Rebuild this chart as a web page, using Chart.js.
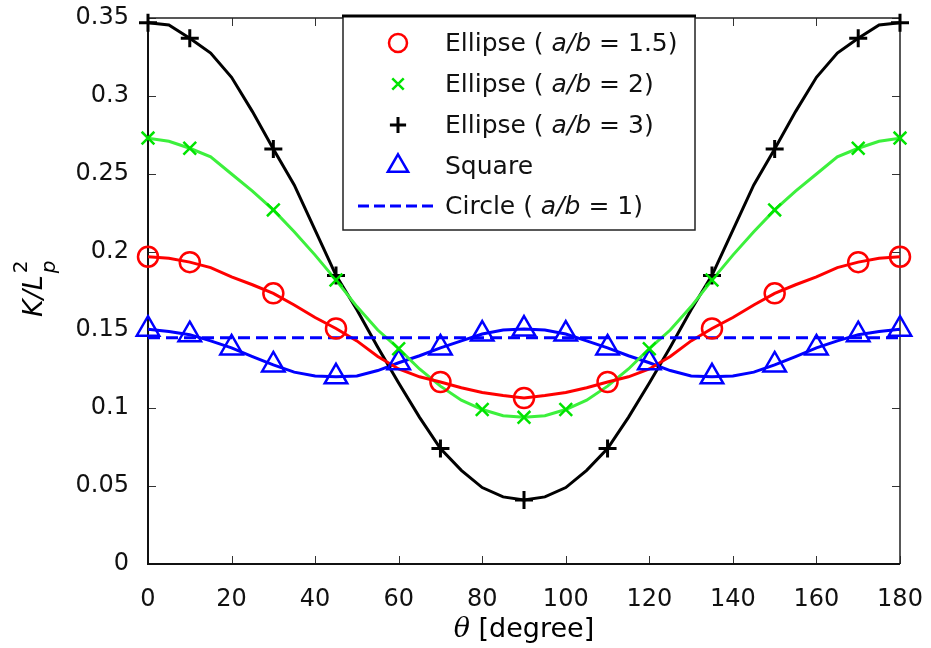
<!DOCTYPE html>
<html>
<head>
<meta charset="utf-8">
<script src="https://cdn.jsdelivr.net/npm/chart.js@4.4.1/dist/chart.umd.min.js"></script>
<style>
  html, body { margin: 0; padding: 0; background: #fff; }
</style>
</head>
<body>
<canvas id="chart" width="931" height="648"></canvas>
<script>
// --- DATA ---
const thetaLine = [0, 5, 10, 15, 20, 25, 30, 35, 40, 45, 50, 55, 60, 65, 70, 75, 80, 85, 90,
  95, 100, 105, 110, 115, 120, 125, 130, 135, 140, 145, 150, 155, 160, 165, 170, 175, 180];

const ellipse15Line = [0.197, 0.196, 0.1935, 0.190, 0.184, 0.179, 0.1735, 0.166, 0.158, 0.151,
  0.143, 0.133, 0.125, 0.120, 0.1167, 0.113, 0.110, 0.108, 0.1064,
  0.108, 0.110, 0.113, 0.1167, 0.120, 0.125, 0.133, 0.143, 0.151, 0.158, 0.166, 0.1735,
  0.179, 0.184, 0.190, 0.1935, 0.196, 0.197];
const ellipse2Line = [0.273, 0.271, 0.2665, 0.261, 0.250, 0.239, 0.227, 0.213, 0.198, 0.182,
  0.165, 0.150, 0.138, 0.125, 0.114, 0.105, 0.099, 0.095, 0.094,
  0.095, 0.099, 0.105, 0.114, 0.125, 0.138, 0.150, 0.165, 0.182, 0.198, 0.213, 0.227,
  0.239, 0.250, 0.261, 0.2665, 0.271, 0.273];
const ellipse3Line = [0.347, 0.3455, 0.337, 0.3275, 0.312, 0.290, 0.266, 0.243, 0.214, 0.185,
  0.163, 0.139, 0.116, 0.094, 0.074, 0.060, 0.049, 0.043, 0.041,
  0.043, 0.049, 0.060, 0.074, 0.094, 0.116, 0.139, 0.163, 0.185, 0.214, 0.243, 0.266,
  0.290, 0.312, 0.3275, 0.337, 0.3455, 0.347];
const squareLine = [0.1505, 0.149, 0.147, 0.143, 0.1385, 0.133, 0.1276, 0.123, 0.1205, 0.120,
  0.1205, 0.124, 0.129, 0.1335, 0.1385, 0.143, 0.1474, 0.150, 0.1506,
  0.150, 0.1474, 0.143, 0.1385, 0.1335, 0.129, 0.124, 0.1205, 0.120, 0.1205, 0.123, 0.1276,
  0.133, 0.1385, 0.143, 0.147, 0.149, 0.1505];

const circleTheta = [0, 180];
const circleLine = [0.145, 0.145];

const ellipse15MarkTheta = [0, 10, 30, 45, 70, 90, 110, 135, 150, 170, 180];
const ellipse15Mark = [0.197, 0.1935, 0.1735, 0.151, 0.1167, 0.1064, 0.1167, 0.151, 0.1735, 0.1935, 0.197];
const ellipse2MarkTheta = [0, 10, 30, 45, 60, 80, 90, 100, 120, 135, 150, 170, 180];
const ellipse2Mark = [0.273, 0.2665, 0.227, 0.182, 0.138, 0.099, 0.094, 0.099, 0.138, 0.182, 0.227, 0.2665, 0.273];
const ellipse3MarkTheta = [0, 10, 30, 45, 70, 90, 110, 135, 150, 170, 180];
const ellipse3Mark = [0.347, 0.337, 0.266, 0.185, 0.074, 0.041, 0.074, 0.185, 0.266, 0.337, 0.347];
const squareMarkTheta = [0, 10, 20, 30, 45, 60, 70, 80, 90, 100, 110, 120, 135, 150, 160, 170, 180];
const squareMark = [0.1505, 0.147, 0.1385, 0.1276, 0.120, 0.129, 0.1385, 0.1474, 0.1506,
  0.1474, 0.1385, 0.129, 0.120, 0.1276, 0.1385, 0.147, 0.1505];

const xTicks = [0, 20, 40, 60, 80, 100, 120, 140, 160, 180];
const yTicks = [0, 0.05, 0.1, 0.15, 0.2, 0.25, 0.3, 0.35];
const yTickLabels = ['0', '0.05', '0.1', '0.15', '0.2', '0.25', '0.3', '0.35'];

// legend rows: [normal, italic, normal]
const legendLabels = [
  ['Ellipse ( ', 'a/b', ' = 1.5)'],
  ['Ellipse ( ', 'a/b', ' = 2)'],
  ['Ellipse ( ', 'a/b', ' = 3)'],
  ['Square', '', ''],
  ['Circle ( ', 'a/b', ' = 1)']
];

const FONT = '"DejaVu Sans", sans-serif';

function pts(xs, ys) {
  return xs.map((x, i) => ({ x: x, y: ys[i] }));
}

function lineSet(xs, ys, color, extra) {
  return Object.assign({
    type: 'line', data: pts(xs, ys), borderColor: color, borderWidth: 3,
    pointRadius: 0, tension: 0, fill: false, order: 5
  }, extra || {});
}

function markSet(xs, ys, color, style, radius, bw) {
  return {
    type: 'line', data: pts(xs, ys), showLine: false, borderColor: color,
    pointBorderColor: color, pointBackgroundColor: 'rgba(0,0,0,0)',
    pointStyle: style, pointRadius: radius, pointBorderWidth: bw,
    clip: false, order: 1
  };
}

const markerSets = [
  markSet(ellipse15MarkTheta, ellipse15Mark, '#ff0000', 'circle', 10, 2.5),
  markSet(ellipse2MarkTheta, ellipse2Mark, '#00e400', 'crossRot', 9, 2.5),
  markSet(ellipse3MarkTheta, ellipse3Mark, '#000000', 'cross', 9, 3),
  markSet(squareMarkTheta, squareMark, '#0000ff', 'triangle', 13, 2.5)
];

// scale label overhang would push the plot area in; the layout padding handles it
function noPadding(s) {
  s.paddingLeft = 0; s.paddingRight = 0; s.paddingTop = 0; s.paddingBottom = 0;
}

// --- PLUGINS ---
const framePlugin = {
  id: 'frame',
  beforeDatasetsDraw(chart) {
    const { ctx, chartArea: a, scales } = chart;
    ctx.save();
    ctx.strokeStyle = '#333';
    ctx.lineWidth = 1;
    xTicks.forEach(v => {
      const px = Math.round(scales.x.getPixelForValue(v)) + 0.5;
      ctx.beginPath();
      ctx.moveTo(px, a.bottom); ctx.lineTo(px, a.bottom - 8);
      ctx.moveTo(px, a.top); ctx.lineTo(px, a.top + 8);
      ctx.stroke();
    });
    yTicks.forEach(v => {
      const py = Math.round(scales.y.getPixelForValue(v)) + 0.5;
      ctx.beginPath();
      ctx.moveTo(a.left, py); ctx.lineTo(a.left + 8, py);
      ctx.moveTo(a.right, py); ctx.lineTo(a.right - 8, py);
      ctx.stroke();
    });
    ctx.strokeStyle = '#222';
    ctx.lineWidth = 1.5;
    ctx.beginPath();
    ctx.moveTo(a.left, a.top); ctx.lineTo(a.right, a.top); ctx.lineTo(a.right, a.bottom);
    ctx.stroke();
    ctx.strokeStyle = '#111';
    ctx.lineWidth = 2;
    ctx.beginPath();
    ctx.moveTo(a.left, a.top); ctx.lineTo(a.left, a.bottom); ctx.lineTo(a.right, a.bottom);
    ctx.stroke();
    ctx.restore();
  }
};

function drawParts(ctx, parts, x, y, size) {
  let cx = x;
  parts.forEach((p, i) => {
    if (!p) return;
    ctx.font = (i === 1 ? 'italic ' : '') + size + 'px ' + FONT;
    ctx.fillText(p, cx, y);
    cx += ctx.measureText(p).width;
  });
}

const titlePlugin = {
  id: 'titles',
  afterDraw(chart) {
    const { ctx, chartArea: a } = chart;
    ctx.save();
    ctx.fillStyle = '#000';
    ctx.textBaseline = 'alphabetic';
    // x title: theta [degree]
    const thFont = 'italic 27px "DejaVu Serif", serif';
    const txtFont = '27px ' + FONT;
    ctx.font = thFont;
    const th = '\u03B8';
    const thW = ctx.measureText(th).width;
    ctx.font = txtFont;
    const rest = ' [degree]';
    const rW = ctx.measureText(rest).width;
    const cx = (a.left + a.right) / 2;
    const sx = cx - (thW + rW) / 2;
    ctx.font = thFont;
    ctx.fillText(th, sx, 637);
    ctx.font = txtFont;
    ctx.fillText(rest, sx + thW, 637);

    // y title: K/L_p^2 rotated
    ctx.translate(42, (a.top + a.bottom) / 2 + 26);
    ctx.rotate(-Math.PI / 2);
    ctx.font = 'italic 27px ' + FONT;
    ctx.fillText('K/L', 0, 0);
    const w = ctx.measureText('K/L').width;
    ctx.font = '20px ' + FONT;
    ctx.fillText('2', w + 2, -15);
    ctx.font = 'italic 20px ' + FONT;
    ctx.fillText('p', w + 2, 13);
    ctx.restore();
  }
};

const legendPlugin = {
  id: 'boxLegend',
  afterDraw(chart) {
    const ctx = chart.ctx;
    const L = 343, T = 16, R = 695, B = 230;
    ctx.save();
    ctx.fillStyle = '#fff';
    ctx.fillRect(L, T, R - L, B - T);
    ctx.strokeStyle = '#222';
    ctx.lineWidth = 1.5;
    ctx.strokeRect(L, T, R - L, B - T);
    ctx.lineWidth = 3;
    ctx.strokeStyle = '#000';
    ctx.beginPath(); ctx.moveTo(L - 1, T); ctx.lineTo(R + 1, T); ctx.stroke();

    const rowY = [43, 84, 125, 166, 206];
    legendLabels.forEach((parts, i) => {
      const y = rowY[i];
      if (i < markerSets.length) {
        const ds = markerSets[i];
        ctx.strokeStyle = ds.pointBorderColor;
        ctx.fillStyle = 'rgba(0,0,0,0)';
        ctx.lineWidth = ds.pointBorderWidth;
        Chart.helpers.drawPoint(ctx, {
          pointStyle: ds.pointStyle, radius: ds.pointRadius * 0.9,
          borderWidth: ds.pointBorderWidth, rotation: 0
        }, 398, y);
      } else {
        ctx.strokeStyle = '#0000ff';
        ctx.lineWidth = 3;
        ctx.setLineDash([11, 5]);
        ctx.beginPath(); ctx.moveTo(358, y); ctx.lineTo(434, y); ctx.stroke();
        ctx.setLineDash([]);
      }
      ctx.fillStyle = '#111';
      ctx.textBaseline = 'middle';
      drawParts(ctx, parts, 445, y + 1, 25);
    });
    ctx.restore();
  }
};

// --- CHART ---
new Chart(document.getElementById('chart'), {
  data: {
    datasets: [
      lineSet(thetaLine, ellipse15Line, '#ff0000'),
      lineSet(thetaLine, ellipse2Line, '#3cf03c'),
      lineSet(thetaLine, ellipse3Line, '#000000'),
      lineSet(thetaLine, squareLine, '#0000ff'),
      lineSet(circleTheta, circleLine, '#0000ff', { borderDash: [12, 6], order: 4 })
    ].concat(markerSets)
  },
  options: {
    responsive: false,
    animation: false,
    events: [],
    layout: { padding: { top: 18, right: 31, left: 0, bottom: 0 } },
    plugins: { legend: { display: false }, tooltip: { enabled: false } },
    scales: {
      x: {
        type: 'linear', min: 0, max: 180,
        afterBuildTicks: s => { s.ticks = xTicks.map(v => ({ value: v })); },
        afterFit: s => { s.height = 84; noPadding(s); },
        grid: { display: false },
        border: { display: false },
        ticks: {
          autoSkip: false, maxRotation: 0, padding: 13, color: '#111',
          font: { family: FONT, size: 24 }
        }
      },
      y: {
        type: 'linear', min: 0, max: 0.35,
        afterBuildTicks: s => { s.ticks = yTicks.map(v => ({ value: v })); },
        afterFit: s => { s.width = 148; noPadding(s); },
        grid: { display: false },
        border: { display: false },
        ticks: {
          padding: 11, color: '#111',
          font: { family: FONT, size: 24 },
          callback: (v, i) => yTickLabels[i]
        }
      }
    }
  },
  plugins: [framePlugin, titlePlugin, legendPlugin]
});
</script>
</body>
</html>
